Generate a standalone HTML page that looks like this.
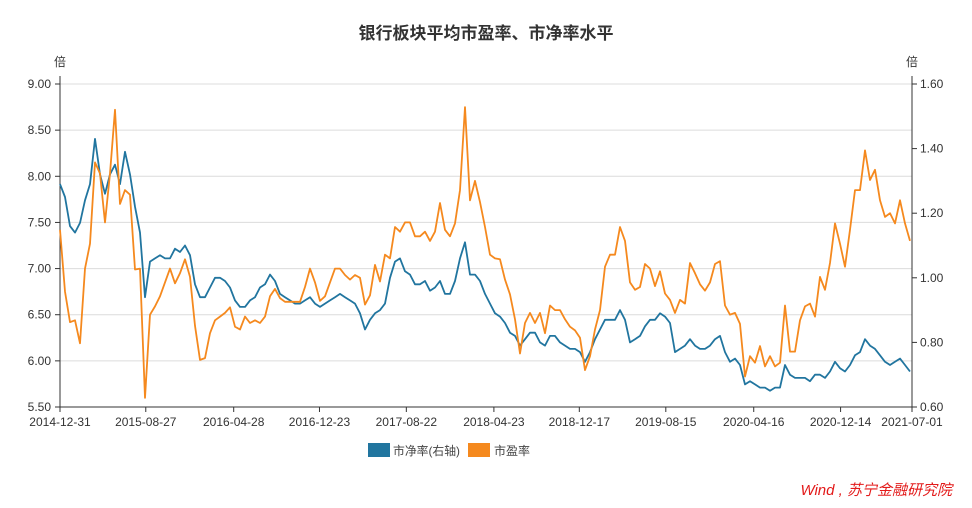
<!DOCTYPE html>
<html><head><meta charset="utf-8"><style>
html,body{margin:0;padding:0;background:#fff;}
svg{display:block;font-family:"Liberation Sans","Noto Sans CJK SC",sans-serif;}
</style></head><body>
<svg id="chart" width="972" height="508" viewBox="0 0 972 508" xmlns="http://www.w3.org/2000/svg">
<text x="486" y="39" text-anchor="middle" font-size="17" font-weight="bold" fill="#333">银行板块平均市盈率、市净率水平</text>
<text x="60" y="66" text-anchor="middle" font-size="12" fill="#333">倍</text>
<text x="912" y="66" text-anchor="middle" font-size="12" fill="#333">倍</text>
<g id="grid"></g>
<g id="axes"></g>
<g id="series"></g>
<g>
<rect x="368" y="443" width="22" height="14" fill="#21759f"/>
<text x="393" y="455" font-size="12" fill="#444" textLength="67" lengthAdjust="spacingAndGlyphs">市净率(右轴)</text>
<rect x="468" y="443" width="22" height="14" fill="#f5891e"/>
<text x="494" y="455" font-size="12" fill="#444">市盈率</text>
</g>
<text x="952" y="495" text-anchor="end" font-size="15" font-style="italic" fill="#e31a1a">Wind , 苏宁金融研究院</text>
</svg>
<script>
const dateTicks = ["2014-12-31","2015-08-27","2016-04-28","2016-12-23","2017-08-22","2018-04-23","2018-12-17","2019-08-15","2020-04-16","2020-12-14","2021-07-01"];
const leftTicks = [5.5,6.0,6.5,7.0,7.5,8.0,8.5,9.0];
const rightTicks = [0.6,0.8,1.0,1.2,1.4,1.6];
const startDate = "2014-12-31";
const endDate = "2021-07-01";
const peValues = [7.42,6.75,6.42,6.44,6.19,7.0,7.27,8.15,8.03,7.5,8.03,8.72,7.7,7.85,7.8,6.99,7.0,5.6,6.5,6.59,6.70,6.85,7.0,6.84,6.95,7.1,6.91,6.38,6.01,6.03,6.3,6.44,6.48,6.52,6.58,6.37,6.34,6.48,6.41,6.44,6.41,6.48,6.7,6.78,6.68,6.64,6.64,6.64,6.64,6.8,7.0,6.85,6.65,6.7,6.85,7.0,7.0,6.93,6.88,6.93,6.90,6.61,6.71,7.04,6.86,7.15,7.11,7.45,7.40,7.5,7.5,7.35,7.35,7.40,7.30,7.4,7.71,7.42,7.35,7.49,7.85,8.75,7.74,7.95,7.72,7.45,7.15,7.11,7.1,6.88,6.72,6.45,6.08,6.41,6.52,6.41,6.52,6.30,6.6,6.55,6.55,6.45,6.37,6.33,6.25,5.90,6.05,6.34,6.55,7.02,7.15,7.15,7.45,7.3,6.85,6.77,6.80,7.05,7.0,6.81,6.97,6.73,6.66,6.52,6.66,6.62,7.06,6.95,6.83,6.76,6.85,7.05,7.08,6.6,6.5,6.52,6.40,5.83,6.05,5.98,6.16,5.94,6.05,5.94,5.98,6.6,6.1,6.1,6.44,6.59,6.62,6.48,6.91,6.77,7.06,7.49,7.27,7.02,7.42,7.85,7.85,8.28,7.96,8.07,7.74,7.56,7.60,7.49,7.74,7.49,7.30];
const pbValues = [1.29,1.25,1.16,1.14,1.17,1.24,1.29,1.43,1.32,1.26,1.32,1.35,1.29,1.39,1.32,1.22,1.14,0.94,1.05,1.06,1.07,1.06,1.06,1.09,1.08,1.10,1.07,0.98,0.94,0.94,0.97,1.0,1.0,0.99,0.97,0.93,0.91,0.91,0.93,0.94,0.97,0.98,1.01,0.99,0.95,0.94,0.93,0.92,0.92,0.93,0.94,0.92,0.91,0.92,0.93,0.94,0.95,0.94,0.93,0.92,0.89,0.84,0.87,0.89,0.90,0.92,1.0,1.05,1.06,1.02,1.01,0.98,0.98,0.99,0.96,0.97,0.99,0.95,0.95,0.99,1.06,1.11,1.01,1.01,0.99,0.95,0.92,0.89,0.88,0.86,0.83,0.82,0.79,0.81,0.83,0.83,0.80,0.79,0.82,0.82,0.80,0.79,0.78,0.78,0.77,0.74,0.77,0.81,0.84,0.87,0.87,0.87,0.90,0.87,0.80,0.81,0.82,0.85,0.87,0.87,0.89,0.88,0.86,0.77,0.78,0.79,0.81,0.79,0.78,0.78,0.79,0.81,0.82,0.77,0.74,0.75,0.73,0.67,0.68,0.67,0.66,0.66,0.65,0.66,0.66,0.73,0.70,0.69,0.69,0.69,0.68,0.70,0.70,0.69,0.71,0.74,0.72,0.71,0.73,0.76,0.77,0.81,0.79,0.78,0.76,0.74,0.73,0.74,0.75,0.73,0.71];

const NS="http://www.w3.org/2000/svg";
const L=60,R=912,T=84,B=407;
const t0=Date.parse(startDate), t1=Date.parse(endDate);
function xDate(d){return L+(Date.parse(d)-t0)/(t1-t0)*(R-L);}
function xIdx(i,n){return L+i/(n-1)*(910-L);}
function yLeft(v){return B-(v-5.5)/(9.0-5.5)*(B-T);}
function yRight(v){return B-(v-0.6)/(1.6-0.6)*(B-T);}
function mk(tag,attrs,parent){const e=document.createElementNS(NS,tag);for(const k in attrs)e.setAttribute(k,attrs[k]);parent.appendChild(e);return e;}
const grid=document.getElementById('grid'), axes=document.getElementById('axes'), series=document.getElementById('series');

leftTicks.forEach(v=>{
  const y=yLeft(v);
  if(v>5.5){const g=mk('line',{x1:L,x2:R,y1:y,y2:y,stroke:'#dcdcdc','stroke-width':1},grid);
  
  }
  const tk=mk('line',{x1:L-5,x2:L,y1:y,y2:y,stroke:'#333'},axes);
  
  
  const t=mk('text',{x:L-9,y:y+4,'text-anchor':'end','font-size':12,fill:'#333'},axes);
  t.textContent=v.toFixed(2);
  
  
});
rightTicks.forEach(v=>{
  const y=yRight(v);
  const tk=mk('line',{x1:R,x2:R+5,y1:y,y2:y,stroke:'#333'},axes);
  
  
  const t=mk('text',{x:R+8,y:y+4,'text-anchor':'start','font-size':12,fill:'#333'},axes);
  t.textContent=v.toFixed(2);
  
  
});
dateTicks.forEach(d=>{
  const x=xDate(d);
  const tk=mk('line',{x1:x,x2:x,y1:B,y2:B+5,stroke:'#333'},axes);
  
  
  const t=mk('text',{x:x,y:B+19,'text-anchor':'middle','font-size':12,fill:'#333'},axes);
  t.textContent=d;
  
  
});
const la=mk('line',{x1:L,x2:L,y1:T-8,y2:B,stroke:'#333'},axes);


const ra=mk('line',{x1:R,x2:R,y1:T-8,y2:B,stroke:'#333'},axes);


const ba=mk('line',{x1:L,x2:R,y1:B,y2:B,stroke:'#333'},axes);



function path(vals,yf,color,name){
  const d=vals.map((v,i)=>(i?'L':'M')+xIdx(i,vals.length).toFixed(1)+','+yf(v).toFixed(1)).join('');
  const p=mk('path',{d:d,fill:'none',stroke:color,'stroke-width':1.8,'stroke-linejoin':'round'},series);
  
  
}
path(pbValues,yRight,'#21759f','pb-line');
path(peValues,yLeft,'#f5891e','pe-line');
</script>
</body></html>
